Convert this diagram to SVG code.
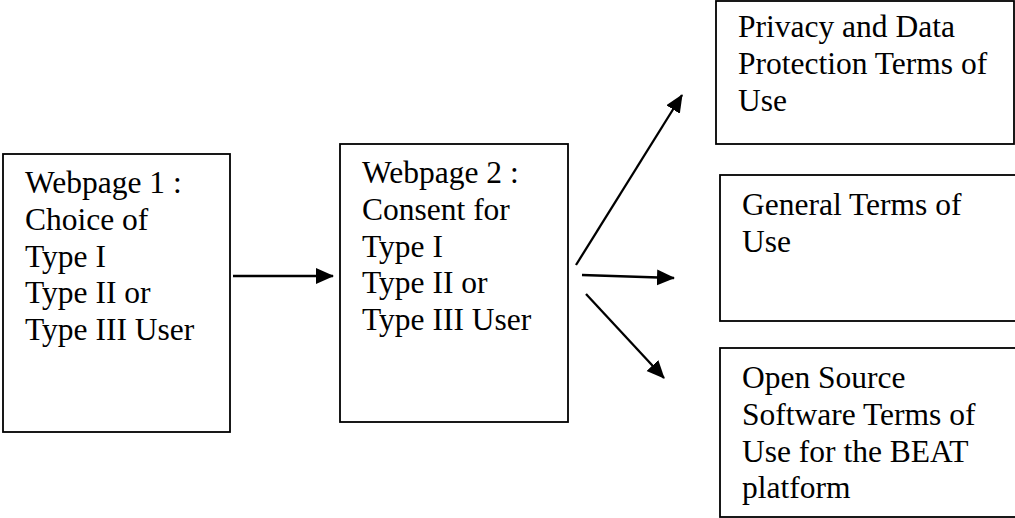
<svg xmlns="http://www.w3.org/2000/svg" width="1015" height="518" viewBox="0 0 1015 518">
<defs>
<style>
.box{fill:#fff;stroke:#000;stroke-width:1.8}
.t{font-family:"Liberation Serif","Times New Roman",serif;font-size:31.5px;fill:#000}
.c{stroke:#000;stroke-width:2.3;fill:none;marker-end:url(#ah)}
</style>
<marker id="ah" markerUnits="userSpaceOnUse" markerWidth="20" markerHeight="18" refX="17" refY="8" orient="auto" viewBox="0 0 20 18">
<path d="M0,0 L18,8 L0,16 z" fill="#000"/>
</marker>
</defs>
<rect width="1015" height="518" fill="#fff"/>
<g id="webpage1">
<rect class="box" x="3" y="154" width="227" height="278"/>
<text class="t" x="25" y="193">Webpage 1 :</text>
<text class="t" x="25" y="230">Choice of</text>
<text class="t" x="25" y="266.5">Type I</text>
<text class="t" x="25" y="303">Type II or</text>
<text class="t" x="25" y="340">Type III User</text>
</g>
<g id="webpage2">
<rect class="box" x="340" y="144" width="228" height="278"/>
<text class="t" x="362" y="183">Webpage 2 :</text>
<text class="t" x="362" y="220">Consent for</text>
<text class="t" x="362" y="256.5">Type I</text>
<text class="t" x="362" y="293">Type II or</text>
<text class="t" x="362" y="330">Type III User</text>
</g>
<g id="privacy">
<rect class="box" x="716" y="1" width="298" height="143"/>
<text class="t" x="738" y="37">Privacy and Data</text>
<text class="t" x="738" y="74">Protection Terms of</text>
<text class="t" x="738" y="110.5">Use</text>
</g>
<g id="general">
<rect class="box" x="720" y="175" width="300" height="146"/>
<text class="t" x="742" y="215">General Terms of</text>
<text class="t" x="742" y="252">Use</text>
</g>
<g id="opensource">
<rect class="box" x="720" y="348" width="300" height="169"/>
<text class="t" x="742" y="388">Open Source</text>
<text class="t" x="742" y="425">Software Terms of</text>
<text class="t" x="742" y="461.5">Use for the BEAT</text>
<text class="t" x="742" y="498">platform</text>
</g>
<g id="connectors">
<line class="c" x1="233" y1="276" x2="333" y2="276"/>
<line class="c" x1="576" y1="265" x2="682" y2="95"/>
<line class="c" x1="582" y1="275" x2="674" y2="278"/>
<line class="c" x1="586" y1="294" x2="664" y2="378"/>
</g>
</svg>
